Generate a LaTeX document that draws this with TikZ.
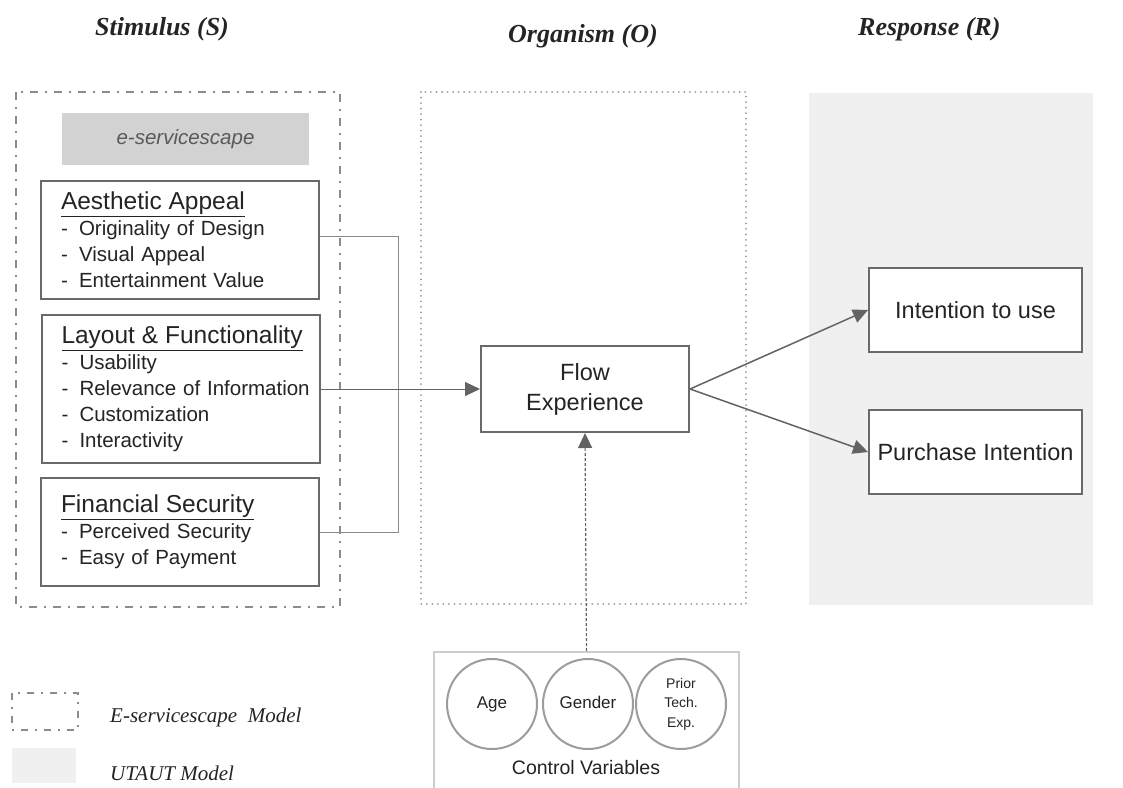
\documentclass[tikz,border=0pt]{standalone}
\usepackage{fontspec}
\setmainfont{Liberation Serif}
\setsansfont{Liberation Sans}
\usetikzlibrary{arrows.meta}

\definecolor{boxline}{HTML}{6A6A6A}
\definecolor{txt}{HTML}{242424}
\definecolor{connline}{HTML}{8A8A8A}
\definecolor{arrowline}{HTML}{636363}
\definecolor{panelgray}{HTML}{F0F0F0}
\definecolor{labelgray}{HTML}{D2D2D2}
\definecolor{framegray}{HTML}{8C8C8C}
\definecolor{dotgray}{HTML}{9A9A9A}
\definecolor{ctrlgray}{HTML}{CCCCCC}
\definecolor{circgray}{HTML}{9C9C9C}

% heading and list lines of the stimulus boxes (indented 15pt from the inner edge)
\newcommand\boxhead[1]{\hspace*{15pt}{\fontsize{24.5}{26}\selectfont\underline{#1}}}
\newcommand\dashitem[1]{\hspace*{15pt}\makebox[18pt][l]{-}#1}

\begin{document}
\begin{tikzpicture}[x=1pt,y=-1pt,
  every node/.style={text=txt},
  title/.style={font=\rmfamily\bfseries\itshape\fontsize{26}{30}\selectfont, anchor=base west, inner sep=0pt},
  legendtext/.style={font=\rmfamily\itshape\fontsize{21}{24}\selectfont, anchor=base west, inner sep=0pt},
  stimbox/.style={draw=boxline, line width=2pt, rectangle, align=left,
    text width=268pt, inner xsep=5pt, inner ysep=0pt, minimum width=278pt,
    font=\sffamily\fontsize{20.5}{26}\selectfont},
  mainbox/.style={draw=boxline, line width=2pt, rectangle, fill=white, align=center,
    inner sep=0pt, font=\sffamily\fontsize{23.5}{30}\selectfont},
  ctrlcirc/.style={draw=circgray, line width=2pt, circle, minimum size=90pt, inner sep=0pt,
    align=center, font=\sffamily\fontsize{17}{19}\selectfont},
  conn/.style={draw=connline, line width=1pt},
  tipshape/.style={-{Triangle[length=15pt,width=14pt]}},
  arrowconn/.style={draw=arrowline, line width=1.5pt, tipshape},
  dashdot/.style={draw=framegray, line width=2.2pt, dash pattern=on 8pt off 7pt on 2pt off 7pt},
  dotframe/.style={draw=dotgray, line width=2pt, line cap=round, dash pattern=on 0.01pt off 5.5pt}
]
\clip (0,0) rectangle (1123,787);
\fill[white] (0,0) rectangle (1123,787);

% column headings
\node[title] (tS) at (95,35) {Stimulus (S)};
\node[title] (tO) at (508,42) {Organism (O)};
\node[title] (tR) at (858,35) {Response (R)};

% background frames of the three stages
\draw[dashdot] (16,92) rectangle (340,607);
\draw[dotframe] (421,92) rectangle (746,604);
\fill[panelgray] (809,93) rectangle (1093,605);

% e-servicescape label
\node[fill=labelgray, minimum width=247pt, minimum height=52pt, inner sep=0pt,
  text=black!65, font=\sffamily\itshape\fontsize{20.5}{24}\selectfont] (es) at (185.5,139) {e-servicescape};

% stimulus dimensions
\node[stimbox, minimum height=118pt] (aa) at (180,240) {%
  \boxhead{Aesthetic Appeal}\\
  \dashitem{Originality of Design}\\
  \dashitem{Visual Appeal}\\
  \dashitem{Entertainment Value}};
\node[stimbox, minimum height=148pt] (lf) at (180.5,389) {%
  \boxhead{Layout \& Functionality}\\
  \dashitem{Usability}\\
  \dashitem{Relevance of Information}\\
  \dashitem{Customization}\\
  \dashitem{Interactivity}};
\node[stimbox, minimum height=108pt] (fs) at (180,532) {%
  \boxhead{Financial Security}\\
  \dashitem{Perceived Security}\\
  \dashitem{Easy of Payment}};

% organism and responses
\node[mainbox, minimum width=208pt, minimum height=86pt] (flow) at (585,389) {Flow\\Experience};
\node[mainbox, minimum width=213pt, minimum height=84pt] (itu) at (975.5,310) {Intention to use};
\node[mainbox, minimum width=213pt, minimum height=84pt] (pi) at (975.5,452) {Purchase Intention};

% connectors
\draw[conn] (aa.east) ++(0,-4) -- ++(78,0) |- (fs.east);
\draw[conn, draw=arrowline, tipshape] (lf.east) -- (flow.west);
\draw[arrowconn] (flow.east) -- (itu.west);
\draw[arrowconn] (flow.east) -- (pi.west);

% control variables
\node[draw=ctrlgray, line width=2pt, minimum width=305pt, minimum height=160pt,
  anchor=north west, inner sep=0pt] (ctrl) at (433,651) {};
\node[ctrlcirc, text height=12.5pt, text depth=3.5pt] (age) at (492,704) {Age};
\node[ctrlcirc, text height=12.5pt, text depth=3.5pt] (gen) at (588,704) {Gender};
\node[ctrlcirc, font=\sffamily\fontsize{14}{19.5}\selectfont] (pte) at (681,704) {Prior\\Tech.\\Exp.};
\node[font=\sffamily\fontsize{19.5}{22}\selectfont, inner sep=0pt] (cv) at (586,768) {Control Variables};
\draw[draw=arrowline, line width=1.2pt, dash pattern=on 3pt off 2pt, tipshape] (ctrl.north) -- (flow.south);

% legend
\draw[dashdot, line width=2pt, dash pattern=on 7pt off 7pt on 2pt off 7pt] (12,693) rectangle (78,730);
\fill[panelgray] (12,748) rectangle (76,783);
\node[legendtext] (lg1) at (110,722) {E-servicescape\ \ Model};
\node[legendtext] (lg2) at (110,780) {UTAUT Model};
\end{tikzpicture}
\end{document}
